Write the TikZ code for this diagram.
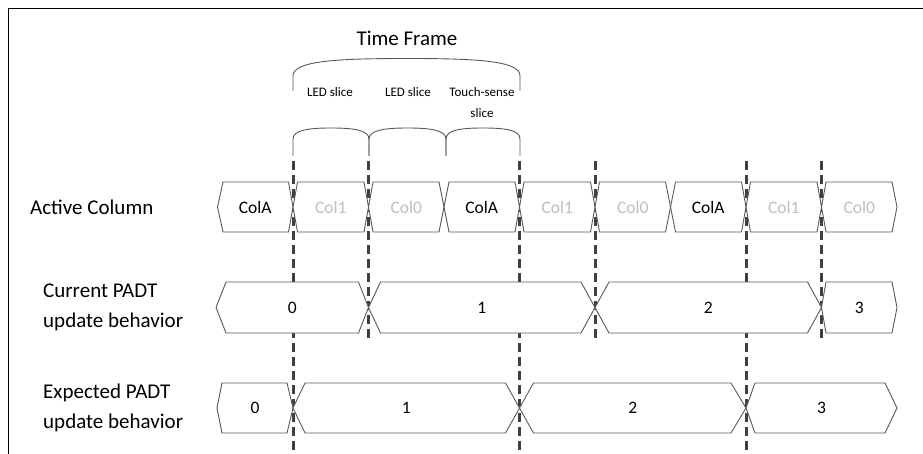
\documentclass[tikz,border=0pt]{standalone}
\usepackage{fontspec}
\setmainfont{Carlito}
\definecolor{dashgray}{HTML}{404040}
\definecolor{boxline}{HTML}{595959}
\definecolor{lightcol}{HTML}{BFBFBF}
\tikzset{
  frameline/.style={draw=black, line width=1pt},
  bracket/.style={draw=boxline, line width=0.9pt},
  divline/.style={draw=dashgray, line width=3pt, dash pattern=on 9pt off 5pt},
  cellbox/.style={draw=boxline, line width=0.9pt, fill=white, line join=miter},
  celltext/.style={inner sep=0pt, font=\fontsize{17.5}{20}\selectfont},
  lbl/.style={inner sep=0pt, align=left, font=\fontsize{21}{30}\selectfont},
  small/.style={inner sep=0pt, font=\fontsize{13}{15}\selectfont},
}
% name, x1, x2, yc, h, dl, dr, text, colour
\newcommand{\hexcell}[9]{%
  \path[cellbox] (#2,#4) -- ({#2+#6},{#4-#5}) -- ({#3-#7},{#4-#5}) -- (#3,#4)
     -- ({#3-#7},{#4+#5}) -- ({#2+#6},{#4+#5}) -- cycle;
  \node[celltext, text=#9] (#1) at ({(#2+#3)/2},#4) {#8};
}
\begin{document}
\begin{tikzpicture}[x=1pt,y=-1pt]
\useasboundingbox (0,0) rectangle (923,454);
% frame
\draw[frameline] (923,9) -- (8,9) -- (8,454);

% title and braces
\node[font=\fontsize{21}{25}\selectfont, inner sep=0pt] (title) at (407,38) {Time Frame};
\draw[bracket] (293,91) -- (293,76) .. controls (293,61) and (335,58.5) .. (407,58.5)
   .. controls (479,58.5) and (520,61) .. (520,76) -- (520,91);
\node[small] (led1) at (330,92) {LED slice};
\node[small] (led2) at (408,92) {LED slice};
\node[small] (touch) at (482,92) {Touch-sense};
\node[small] (touch2) at (482,113) {slice};
\foreach \a/\b in {293/369, 369/446, 446/520}{
  \draw[bracket] (\a,156) -- (\a,139) .. controls (\a,130) and ({(\a+\b)/2-22},128) .. ({(\a+\b)/2},128)
     .. controls ({(\a+\b)/2+22},128) and (\b,130) .. (\b,139) -- (\b,156);
}

% divider lines
\foreach \n/\x/\e in {d1/293/452, d2/368.5/340, d3/519.5/452, d4/595/340, d5/746/452, d6/821.5/340}{
  \coordinate (\n t) at (\x,161);
  \coordinate (\n b) at (\x,\e);
  \draw[divline] (\n t) -- (\n b);
}

% row labels
\node[lbl, anchor=west] (lab1) at (30,207) {Active Column};
\node[lbl, anchor=west] (lab2) at (43,307) {Current PADT\\update behavior};
\node[lbl, anchor=west] (lab3) at (43,408) {Expected PADT\\update behavior};

% row 1
\hexcell{r1a}{217.5}{293}{207}{25}{5.5}{4.5}{ColA}{black}
\hexcell{r1b}{293}{368.5}{207}{25}{4.5}{4.5}{Col1}{lightcol}
\hexcell{r1c}{368.5}{444}{207}{25}{4.5}{5}{Col0}{lightcol}
\hexcell{r1d}{444}{519.5}{207}{25}{5}{4.5}{ColA}{black}
\hexcell{r1e}{519.5}{595}{207}{25}{4.5}{4.5}{Col1}{lightcol}
\hexcell{r1f}{595}{670.5}{207}{25}{4.5}{5}{Col0}{lightcol}
\hexcell{r1g}{670.5}{746}{207}{25}{5}{4.5}{ColA}{black}
\hexcell{r1h}{746}{821.5}{207}{25}{4.5}{4.5}{Col1}{lightcol}
\hexcell{r1i}{821.5}{897}{207}{25}{4.5}{5}{Col0}{lightcol}

% row 2
\hexcell{r2a}{216}{368.5}{307.5}{25.5}{10}{10}{0}{black}
\hexcell{r2b}{368.5}{595}{307.5}{25.5}{12}{14}{1}{black}
\hexcell{r2c}{595}{821.5}{307.5}{25.5}{14}{14}{2}{black}
\hexcell{r2d}{821.5}{897}{307.5}{25.5}{4.5}{5}{3}{black}

% row 3
\hexcell{r3a}{217}{293}{408}{25}{5}{6}{0}{black}
\hexcell{r3b}{293}{519.5}{408}{25}{12}{14}{1}{black}
\hexcell{r3c}{519.5}{746}{408}{25}{14}{15}{2}{black}
\hexcell{r3d}{746}{897}{408}{25}{9}{12}{3}{black}
\end{tikzpicture}
\end{document}
